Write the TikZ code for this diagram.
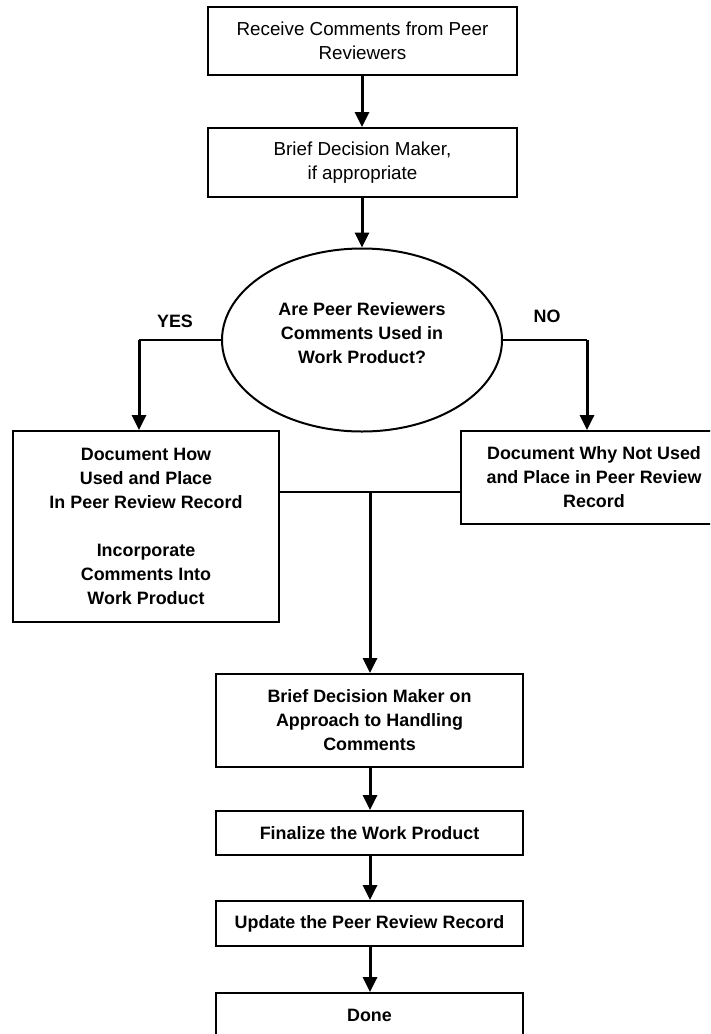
\documentclass[tikz,border=0pt]{standalone}
\usepackage{fontspec}
\setmainfont{Liberation Sans}
\usetikzlibrary{arrows.meta,shapes.geometric}
\begin{document}
\begin{tikzpicture}[x=1pt,y=-1pt,
  topbox/.style={draw,line width=1.8pt,minimum width=309pt,align=center,inner sep=0pt,
     font=\fontsize{18.8}{23.5}\selectfont},
  box/.style={draw,line width=1.8pt,align=center,inner sep=0pt,
     font=\bfseries\fontsize{17.9}{24}\selectfont},
  lbl/.style={inner sep=0pt,font=\bfseries\fontsize{17.9}{24}\selectfont},
  arr/.style={line width=3pt,-{Triangle[width=14pt,length=15pt]}},
  joinline/.style={line width=2.4pt}]
\useasboundingbox (0,0) rectangle (710,1034);
\clip (0,0) rectangle (710,1034);
\fill[white] (0,0) rectangle (710,1034);

\node[topbox,minimum height=68pt] (recv) at (362.5,41) {Receive Comments from Peer\\Reviewers};
\node[topbox,minimum height=69pt] (brief) at (362.5,162.5) {Brief Decision Maker,\\if appropriate};
\node[ellipse,draw,line width=2pt,minimum width=280pt,minimum height=183pt,inner sep=0pt] (ell) at (362,340) {};
\node[lbl,align=center] (q) at (362,333) {Are Peer Reviewers\\Comments Used in\\Work Product?};
\node[lbl] (yes) at (175,321) {YES};
\node[lbl] (no) at (547,316) {NO};

\node[box,minimum width=266pt,minimum height=191pt] (how) at (146,526.5)
  {Document How\\Used and Place\\In Peer Review Record\\[24pt]Incorporate\\Comments Into\\Work Product};
\node[box,minimum width=266pt,minimum height=93pt] (why) at (594,477.5)
  {Document Why Not Used\\and Place in Peer Review\\Record};

\node[box,minimum width=307pt,minimum height=93pt] (bdm) at (369.5,720.5)
  {Brief Decision Maker on\\Approach to Handling\\Comments};
\node[box,minimum width=307pt,minimum height=44pt] (fin) at (369.5,833) {Finalize the Work Product};
\node[box,minimum width=307pt,minimum height=45pt] (upd) at (369.5,923.5) {Update the Peer Review Record};
\node[box,minimum width=307pt,minimum height=44pt] (done) at (369.5,1015) {Done};

\coordinate (yesTurn) at (139,340);
\coordinate (noTurn) at (587,340);
\coordinate (merge) at (370,492);

\draw[arr] (recv.south -| ell.north) -- (brief.north -| ell.north);
\draw[arr] (brief.south -| ell.north) -- (ell.north);
\draw[joinline] (ell.west) -- (yesTurn);
\draw[arr] (yesTurn) -- (yesTurn |- how.north);
\draw[joinline] (ell.east) -- (noTurn);
\draw[arr] (noTurn) -- (noTurn |- why.north);
\draw[joinline] (how.east |- merge) -- (why.west |- merge);
\draw[arr] (merge) -- (merge |- bdm.north);
\draw[arr] (bdm.south -| merge) -- (fin.north -| merge);
\draw[arr] (fin.south -| merge) -- (upd.north -| merge);
\draw[arr] (upd.south -| merge) -- (done.north -| merge);
\end{tikzpicture}
\end{document}
